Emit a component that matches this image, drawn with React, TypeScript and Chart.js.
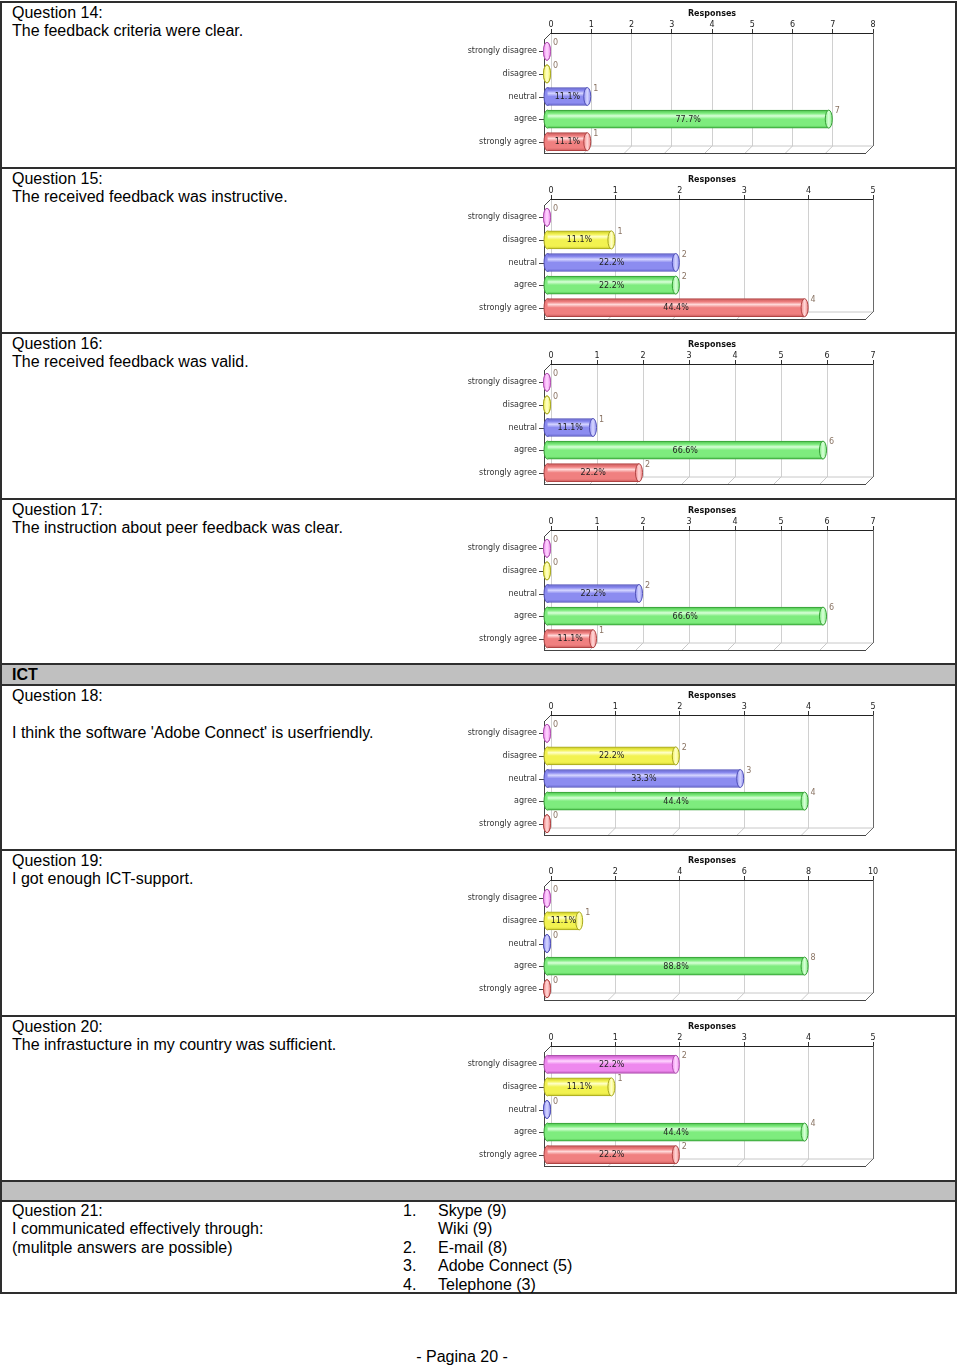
import React, { useEffect, useRef } from "react";
import { Chart, registerables } from "chart.js";

Chart.register(...registerables);

// ---------- data ----------
const categories = ["strongly disagree", "disagree", "neutral", "agree", "strongly agree"];
const q14Values = [0, 0, 1, 7, 1];
const q15Values = [0, 1, 2, 2, 4];
const q16Values = [0, 0, 1, 6, 2];
const q17Values = [0, 0, 2, 6, 1];
const q18Values = [0, 2, 3, 4, 0];
const q19Values = [0, 1, 0, 8, 0];
const q20Values = [2, 1, 0, 4, 2];
const axisMaxes = [8, 5, 7, 7, 5, 10, 5];
const axisSteps = [1, 1, 1, 1, 1, 2, 1];
const axisTitle = "Responses";

const questionTitles = [
  "Question 14:", "Question 15:", "Question 16:", "Question 17:",
  "Question 18:", "Question 19:", "Question 20:",
];
const questionTexts = [
  "The feedback criteria were clear.",
  "The received feedback was instructive.",
  "The received feedback was valid.",
  "The instruction about peer feedback was clear.",
  "I think the software 'Adobe Connect' is userfriendly.",
  "I got enough ICT-support.",
  "The infrastucture in my country was sufficient.",
];
const q21Numbers = ["1.", "", "2.", "3.", "4."];
const q21Answers = ["Skype (9)", "Wiki (9)", "E-mail (8)", "Adobe Connect (5)", "Telephone (3)"];

// ---------- styles ----------
const barPalette = [
  { base: "#ee88ee", light: "#ffd6ff", dark: "#c05cc0", border: "#b050b0" },
  { base: "#f2f250", light: "#ffffc8", dark: "#c8c828", border: "#a8a820" },
  { base: "#8c8cf0", light: "#d6d6ff", dark: "#6262cc", border: "#5050b8" },
  { base: "#7eec7e", light: "#d8ffd8", dark: "#4cc04c", border: "#36a036" },
  { base: "#f08080", light: "#ffd8d8", dark: "#c85a5a", border: "#b04444" },
];
const SMALL_FONT = "DejaVu Sans";
const SMALL_SIZE = 8;
const DEPTH = 7;
const DX = -4;
const DY = 7;
const BAR_T = 18;

function line(ctx: CanvasRenderingContext2D, x1: number, y1: number, x2: number, y2: number) {
  ctx.beginPath();
  ctx.moveTo(x1, y1);
  ctx.lineTo(x2, y2);
  ctx.stroke();
}

function ellipse(ctx: CanvasRenderingContext2D, x: number, y: number, rx: number, ry: number, fill: any, stroke: string) {
  ctx.beginPath();
  ctx.ellipse(x, y, rx, ry, 0, 0, Math.PI * 2);
  ctx.fillStyle = fill;
  ctx.fill();
  ctx.lineWidth = 1;
  ctx.strokeStyle = stroke;
  ctx.stroke();
}

const cylinderPlugin = {
  id: "cylinder",
  beforeDatasetsDraw(chart: any) {
    const { ctx, chartArea: a, scales } = chart;
    const xs = scales.x;
    const ys = scales.y;
    ctx.save();
    ctx.lineWidth = 1;
    // floor (back plane bottom + depth diagonals)
    ctx.strokeStyle = "#c8c8c8";
    xs.ticks.forEach((t: any) => {
      const px = xs.getPixelForValue(t.value);
      line(ctx, px, a.bottom, px - DEPTH, a.bottom + DEPTH);
    });
    line(ctx, a.left, a.bottom, a.right, a.bottom);
    // box frame
    ctx.strokeStyle = "#6a6a6a";
    line(ctx, a.right + 0.5, a.top, a.right + 0.5, a.bottom);
    line(ctx, a.right, a.bottom, a.right - DEPTH, a.bottom + DEPTH);
    ctx.strokeStyle = "#444";
    line(ctx, a.left - DEPTH, a.bottom + DEPTH + 0.5, a.right - DEPTH, a.bottom + DEPTH + 0.5);
    line(ctx, a.left, a.top, a.left - DEPTH, a.top + DEPTH);
    line(ctx, a.left - DEPTH + 0.5, a.top + DEPTH, a.left - DEPTH + 0.5, a.bottom + DEPTH);
    // category tick marks on the front plane
    chart.data.labels.forEach((_: any, i: number) => {
      const py = Math.round(ys.getPixelForValue(i) + DEPTH) + 0.5;
      line(ctx, a.left - DEPTH - 5, py, a.left - DEPTH, py);
    });
    ctx.restore();

    // bars are drawn shifted onto the front plane
    ctx.save();
    ctx.translate(DX, DY);
    const meta = chart.getDatasetMeta(0);
    meta.data.forEach((el: any, i: number) => {
      const c = barPalette[i % barPalette.length];
      ellipse(ctx, el.base, el.y, 3.5, BAR_T / 2, c.base, c.border);
    });
  },
  afterDatasetsDraw(chart: any) {
    const { ctx } = chart;
    const meta = chart.getDatasetMeta(0);
    const values: number[] = chart.data.datasets[0].data;
    const total = values.reduce((s, v) => s + v, 0);
    meta.data.forEach((el: any, i: number) => {
      const c = barPalette[i % barPalette.length];
      const g = ctx.createLinearGradient(el.x - 4, 0, el.x + 4, 0);
      g.addColorStop(0, c.base);
      g.addColorStop(0.5, c.light);
      g.addColorStop(1, c.base);
      ellipse(ctx, el.x, el.y, 3.5, BAR_T / 2, g, c.border);
    });
    ctx.textBaseline = "middle";
    meta.data.forEach((el: any, i: number) => {
      const v = values[i];
      ctx.font = `${SMALL_SIZE}px "${SMALL_FONT}"`;
      ctx.fillStyle = "#8a7464";
      ctx.textAlign = "left";
      ctx.fillText(String(v), el.x + 6, el.y - 8);
      if (v > 0) {
        const pct = (Math.floor((v / total) * 1000) / 10).toFixed(1) + "%";
        ctx.fillStyle = "#1e1e1e";
        ctx.textAlign = "center";
        ctx.fillText(pct, (el.x + el.base) / 2, el.y + 0.5);
      }
    });
    ctx.restore();
  },
};

function BarChart({ values, max, step, top }: { values: number[]; max: number; step: number; top: number }) {
  const ref = useRef<HTMLCanvasElement | null>(null);
  useEffect(() => {
    if (!ref.current) return;
    const grad = (c: any) => {
      const i = c.dataIndex;
      if (i === undefined) return barPalette[0].base;
      const p = barPalette[i % barPalette.length];
      const chart = c.chart;
      if (!chart.chartArea || !chart.scales.y) return p.base;
      const yc = chart.scales.y.getPixelForValue(i);
      const g = chart.ctx.createLinearGradient(0, yc - BAR_T / 2, 0, yc + BAR_T / 2);
      g.addColorStop(0, p.dark);
      g.addColorStop(0.18, p.base);
      g.addColorStop(0.32, p.light);
      g.addColorStop(0.5, p.base);
      g.addColorStop(0.85, p.base);
      g.addColorStop(1, p.dark);
      return g;
    };
    const chart = new Chart(ref.current, {
      type: "bar",
      data: {
        labels: categories,
        datasets: [
          {
            data: values,
            backgroundColor: grad as any,
            borderColor: barPalette.map((p) => p.border),
            borderWidth: { top: 1, bottom: 1, left: 0, right: 0 } as any,
            borderSkipped: false,
            barThickness: BAR_T,
            clip: false as any,
          },
        ],
      },
      options: {
        indexAxis: "y",
        responsive: false,
        maintainAspectRatio: false,
        animation: false,
        events: [],
        layout: { padding: { left: 0, right: 7, top: 0, bottom: 16 } },
        plugins: { legend: { display: false }, tooltip: { enabled: false } },
        scales: {
          x: {
            position: "top",
            min: 0,
            max,
            ticks: { stepSize: step, padding: -1, color: "#222", font: { family: SMALL_FONT, size: SMALL_SIZE } },
            grid: { color: "#d0d0d0", tickLength: 4, tickColor: "#333" },
            border: { display: true, color: "#222", width: 1 },
            title: {
              display: true,
              text: axisTitle,
              color: "#111",
              font: { family: SMALL_FONT, size: SMALL_SIZE, weight: "bold" },
              padding: { top: 7, bottom: 0 },
            },
            afterFit: (s: any) => {
              s.height = 31;
            },
          },
          y: {
            type: "category",
            grid: { display: false, drawTicks: true, tickLength: 4 },
            border: { display: false },
            ticks: { padding: 10, labelOffset: 7, color: "#333", font: { family: SMALL_FONT, size: SMALL_SIZE } },
            afterFit: (s: any) => {
              s.width = 91;
            },
          },
        },
      } as any,
      plugins: [cylinderPlugin as any],
    });
    return () => chart.destroy();
  }, []);
  return (
    <canvas
      ref={ref}
      width={420}
      height={160}
      style={{ position: "absolute", left: 460, top, width: 420, height: 160 }}
    />
  );
}

export default function App() {
  const seriesList = [q14Values, q15Values, q16Values, q17Values, q18Values, q19Values, q20Values];
  const chartTops = [2, 168, 333, 499, 684, 849, 1015];
  const rowTops = [2, 168, 333, 499, 685, 850, 1016];
  const hLines = [2, 168, 333, 499, 664, 685, 850, 1016, 1181, 1201, 1293];
  const lineH = 18.4;
  const textStyle: React.CSSProperties = {
    position: "absolute",
    fontFamily: '"Liberation Sans", Arial, sans-serif',
    fontSize: 16,
    lineHeight: `${lineH}px`,
    color: "#000",
    whiteSpace: "nowrap",
  };
  return (
    <div
      style={{
        position: "absolute",
        left: 0,
        top: 0,
        width: 960,
        height: 1368,
        background: "#fff",
        overflow: "hidden",
      }}
    >
      {/* grey bands */}
      <div style={{ position: "absolute", left: 1, top: 665, width: 955, height: 20, background: "#c0c0c0" }} />
      <div style={{ position: "absolute", left: 1, top: 1182, width: 955, height: 19, background: "#c0c0c0" }} />
      {/* table lines */}
      {hLines.map((y) => (
        <div key={y} style={{ position: "absolute", left: 0, top: y - 1, width: 957, height: 2, background: "#2e2e2e" }} />
      ))}
      <div style={{ position: "absolute", left: 0, top: 1, width: 2, height: 1293, background: "#2e2e2e" }} />
      <div style={{ position: "absolute", left: 955, top: 1, width: 2, height: 1293, background: "#2e2e2e" }} />

      {/* question texts */}
      {questionTitles.map((t, i) => (
        <div key={t} style={{ ...textStyle, left: 12, top: rowTops[i] + 2 }}>
          <div>{t}</div>
          {i === 4 && <div>&nbsp;</div>}
          <div>{questionTexts[i]}</div>
        </div>
      ))}
      <div style={{ ...textStyle, left: 12, top: 666, fontWeight: "bold" }}>ICT</div>

      {/* question 21 */}
      <div style={{ ...textStyle, left: 12, top: 1202 }}>
        <div>Question 21:</div>
        <div>I communicated effectively through:</div>
        <div>(mulitple answers are possible)</div>
      </div>
      {q21Answers.map((a, i) => (
        <React.Fragment key={a}>
          <div style={{ ...textStyle, left: 403, top: 1202 + i * lineH }}>{q21Numbers[i]}</div>
          <div style={{ ...textStyle, left: 438, top: 1202 + i * lineH }}>{a}</div>
        </React.Fragment>
      ))}

      {/* charts */}
      {seriesList.map((vals, i) => (
        <BarChart key={i} values={vals} max={axisMaxes[i]} step={axisSteps[i]} top={chartTops[i]} />
      ))}

      {/* footer */}
      <div style={{ ...textStyle, left: 0, width: 924, textAlign: "center", top: 1348 }}>- Pagina 20 -</div>
    </div>
  );
}
